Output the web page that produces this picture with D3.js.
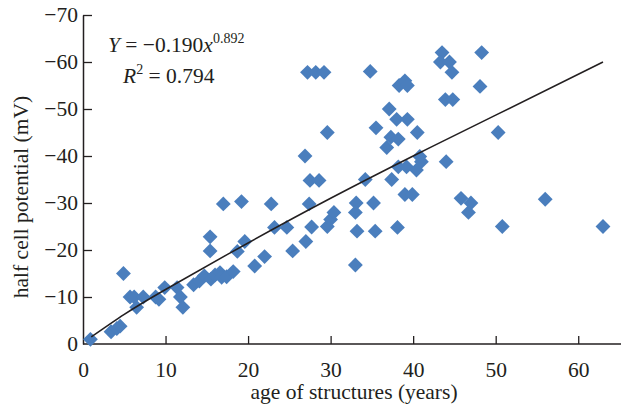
<!DOCTYPE html>
<html>
<head>
<meta charset="utf-8">
<script src="https://cdn.jsdelivr.net/npm/d3@7"></script>
<style>
  body { margin: 0; background: #fff; }
  svg text { font-family: "Liberation Serif", "DejaVu Serif", serif; fill: #231f20; }
</style>
</head>
<body>
<svg id="chart_svg" width="621" height="408"></svg>
<script>
// age of structure (years) and half cell potential (mV)
var ageYears = [0.9, 3.4, 4.1, 4.5, 4.9, 5.7, 6.2, 6.5, 7.3, 8.8, 9.2, 9.9, 11.4, 11.8, 12.1,
    13.4, 14.1, 14.7, 15.5, 16.0, 16.6, 16.8, 17.4, 18.2, 15.4, 15.4, 17.0, 19.2, 18.7, 19.6,
    20.8, 22.0, 22.8, 23.2, 24.7, 25.4, 27.0, 27.4, 27.7, 26.9, 27.2, 28.2, 29.2, 27.5, 28.6,
    29.6, 29.6, 30.0, 30.4, 33.1, 33.0, 33.2, 33.0, 34.2, 35.2, 35.4, 34.8, 35.5,
    36.8, 37.3, 37.1, 37.4, 38.1, 38.2, 38.0, 39.3, 38.3, 39.0, 39.3, 38.2, 39.2, 39.0, 39.9,
    40.5, 40.4, 40.8, 41.0, 43.5, 43.3, 44.4, 44.7, 43.9, 44.8, 44.0, 45.8, 47.0, 46.7, 48.3,
    48.1, 50.3, 50.8, 56.0, 63.0];
var potential = [-1, -2.6, -3.3, -3.8, -15, -10, -10, -7.8, -10, -10, -9.5, -12, -12, -10, -7.8,
    -12.6, -13.4, -14.5, -13.8, -14.7, -15.2, -14.2, -14.3, -15.4, -22.8, -19.8, -29.8, -30.3, -19.7, -21.8,
    -16.6, -18.6, -29.8, -24.8, -24.8, -19.8, -21.8, -29.8, -24.9, -40, -57.8, -57.8, -57.8, -34.8, -34.8,
    -45, -25, -26.5, -28, -30, -28, -24, -16.8, -35, -30, -24, -58, -46,
    -41.8, -44, -50, -35, -24.8, -43.6, -47.8, -47.8, -55, -56, -55, -37.7, -37.7, -31.8, -31.8,
    -45, -37, -39.9, -38.8, -62, -60, -60, -57.8, -52, -52, -38.8, -31, -30, -28, -62,
    -54.8, -45, -25, -30.8, -25];

// fitted curve
var trendAge = [1, 5, 10, 20, 30, 40, 50, 63];
var trendPot = [-1.5, -6.3, -11.6, -21.5, -31, -40, -48.7, -60];

var xTicks = [0, 10, 20, 30, 40, 50, 60];
var yTicks = [0, -10, -20, -30, -40, -50, -60, -70];

var svg = d3.select("#chart_svg");

var x = d3.scaleLinear().domain([0, 65]).range([83, 619.5]);
var y = d3.scaleLinear().domain([0, -70]).range([344, 15]);

var axisColor = "#231f20";
var fontSize = "21.5px";

// x axis, ticks pointing inward
var xAxis = svg.append("g")
    .attr("transform", "translate(0," + y(0) + ")")
    .call(d3.axisBottom(x).tickValues(xTicks).tickSizeInner(-8).tickSizeOuter(0).tickPadding(18));
xAxis.select(".domain").attr("d", "M" + x(0) + ",0H621").attr("stroke", axisColor).attr("stroke-width", 1.5);
xAxis.selectAll(".tick line").attr("stroke", axisColor).attr("stroke-width", 1.3);
xAxis.selectAll(".tick").filter(function (d) { return d === 0; }).select("line").remove();
xAxis.selectAll(".tick text").attr("font-size", fontSize).attr("fill", axisColor)
    .style("font-family", "Liberation Serif, serif");

// y axis, ticks pointing inward
var yAxis = svg.append("g")
    .attr("transform", "translate(" + x(0) + ",0)")
    .call(d3.axisLeft(y).tickValues(yTicks).tickSizeInner(-9).tickSizeOuter(0).tickPadding(5));
yAxis.select(".domain").attr("stroke", axisColor).attr("stroke-width", 1.5);
yAxis.selectAll(".tick line").attr("stroke", axisColor).attr("stroke-width", 1.3);
yAxis.selectAll(".tick").filter(function (d) { return d === 0; }).select("line").remove();
yAxis.selectAll(".tick text").attr("font-size", fontSize).attr("fill", axisColor)
    .style("font-family", "Liberation Serif, serif");

// points as diamonds
var pts = ageYears.map(function (a, i) { return { age: a, pot: potential[i] }; });
var diamond = d3.symbol().type(d3.symbolSquare).size(110);
svg.append("g")
    .selectAll("path")
    .data(pts)
    .enter()
    .append("path")
    .attr("d", diamond)
    .attr("fill", "#4a7ebd")
    .attr("transform", function (d) { return "translate(" + x(d.age) + "," + y(d.pot) + ") rotate(45)"; });

// trend line
var line = d3.line()
    .x(function (d, i) { return x(trendAge[i]); })
    .y(function (d) { return y(d); })
    .curve(d3.curveNatural);
svg.append("path")
    .attr("d", line(trendPot))
    .attr("fill", "none")
    .attr("stroke", "#231f20")
    .attr("stroke-width", 1.6);

// equation
var eq = svg.append("text").attr("x", 108).attr("y", 52).attr("font-size", fontSize);
eq.append("tspan").attr("font-style", "italic").text("Y");
eq.append("tspan").text(" = −0.190");
eq.append("tspan").attr("font-style", "italic").text("x");
eq.append("tspan").attr("font-size", "14px").attr("dy", -9).text("0.892");

var r2 = svg.append("text").attr("x", 123).attr("y", 83).attr("font-size", fontSize);
r2.append("tspan").attr("font-style", "italic").text("R");
r2.append("tspan").attr("font-size", "14px").attr("dy", -9).text("2");
r2.append("tspan").attr("dy", 9).text(" = 0.794");

// axis titles
svg.append("text")
    .attr("x", 354).attr("y", 399)
    .attr("text-anchor", "middle")
    .attr("font-size", fontSize)
    .text("age of structures (years)");

svg.append("text")
    .attr("transform", "translate(28,197) rotate(-90)")
    .attr("text-anchor", "middle")
    .attr("font-size", fontSize)
    .text("half cell potential (mV)");
</script>
</body>
</html>
